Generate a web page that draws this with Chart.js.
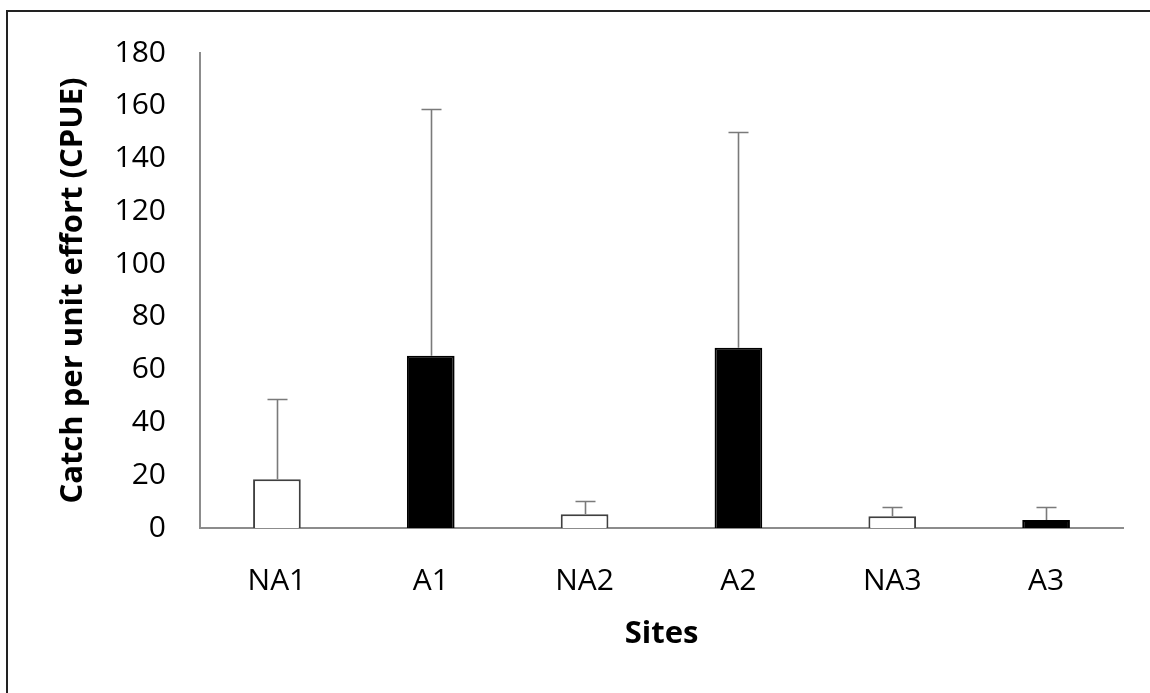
<!DOCTYPE html>
<html>
<head>
<meta charset="utf-8">
<script src="https://cdn.jsdelivr.net/npm/chart.js@4/dist/chart.umd.min.js"></script>
<style>
  body { margin: 0; background: #fff; }
  canvas { display: block; }
</style>
</head>
<body>
<canvas id="myChart" width="1150" height="693"></canvas>
<script>
// data
const sites = ['NA1', 'A1', 'NA2', 'A2', 'NA3', 'A3'];
const cpue = [18.5, 65.3, 5.2, 68.3, 4.5, 3.0];
const cpueSd = [30.4, 93.4, 5.1, 81.7, 3.3, 4.8];
const yTicks = [0, 20, 40, 60, 80, 100, 120, 140, 160, 180];

const axisGrey = '#8c8c8c';

// NA sites white, A sites black
const fills = sites.map(s => s.startsWith('NA') ? '#ffffff' : '#000000');
const borders = sites.map(s => s.startsWith('NA') ? '#404040' : '#000000');

// frame round the whole picture
const framePlugin = {
    id: 'frame',
    afterDraw(chart) {
        const ctx = chart.ctx;
        ctx.save();
        ctx.strokeStyle = '#222';
        ctx.lineWidth = 2;
        ctx.strokeRect(7, 11, 1300, 1000);
        ctx.restore();
    }
};

// upper error bars only
const errorBars = {
    id: 'errorBars',
    afterDatasetsDraw(chart) {
        const ctx = chart.ctx;
        const xs = chart.scales.x;
        const ys = chart.scales.y;
        ctx.save();
        ctx.strokeStyle = '#7a7a7a';
        ctx.lineWidth = 1.6;
        cpue.forEach((v, i) => {
            const x = Math.round(xs.getPixelForValue(i)) + 0.5;
            const y0 = ys.getPixelForValue(v);
            const y1 = Math.round(ys.getPixelForValue(v + cpueSd[i])) + 0.5;
            ctx.beginPath();
            ctx.moveTo(x, y0);
            ctx.lineTo(x, y1);
            ctx.moveTo(x - 10, y1);
            ctx.lineTo(x + 10, y1);
            ctx.stroke();
        });
        ctx.restore();
    }
};

const config = {
    type: 'bar',
    data: {
        labels: sites,
        datasets: [{
            data: cpue,
            backgroundColor: fills,
            borderColor: borders,
            borderWidth: 2,
            barPercentage: 0.31,
            categoryPercentage: 1
        }]
    },
    options: {
        responsive: false,
        animation: false,
        devicePixelRatio: 1,
        layout: { padding: { top: 53, right: 27, left: 0, bottom: 0 } },
        plugins: {
            legend: { display: false },
            tooltip: { enabled: false }
        },
        scales: {
            x: {
                grid: { display: false, drawTicks: false },
                border: { display: true, color: axisGrey, width: 2 },
                ticks: {
                    color: '#000',
                    padding: 35,
                    font: { family: 'Open Sans', size: 30 }
                },
                title: {
                    display: true,
                    text: 'Sites',
                    color: '#000',
                    font: { family: 'Open Sans', size: 31, weight: 'bold' },
                    padding: { top: 0, bottom: 40 }
                },
                afterFit: s => { s.height = 165; }
            },
            y: {
                min: 0,
                max: 180,
                grid: { display: false, drawTicks: false },
                border: { display: true, color: axisGrey, width: 2 },
                afterBuildTicks: s => { s.ticks = yTicks.map(v => ({ value: v })); },
                ticks: {
                    color: '#000',
                    padding: 34,
                    font: { family: 'Open Sans', size: 30 }
                },
                title: {
                    display: true,
                    text: 'Catch per unit effort (CPUE)',
                    color: '#000',
                    font: { family: 'Open Sans', size: 31, weight: 'bold' },
                    padding: { top: 55, bottom: 0 }
                },
                afterFit: s => { s.width = 200; }
            }
        }
    },
    plugins: [errorBars, framePlugin]
};

const myChart = new Chart(document.getElementById('myChart'), config);
</script>
</body>
</html>
